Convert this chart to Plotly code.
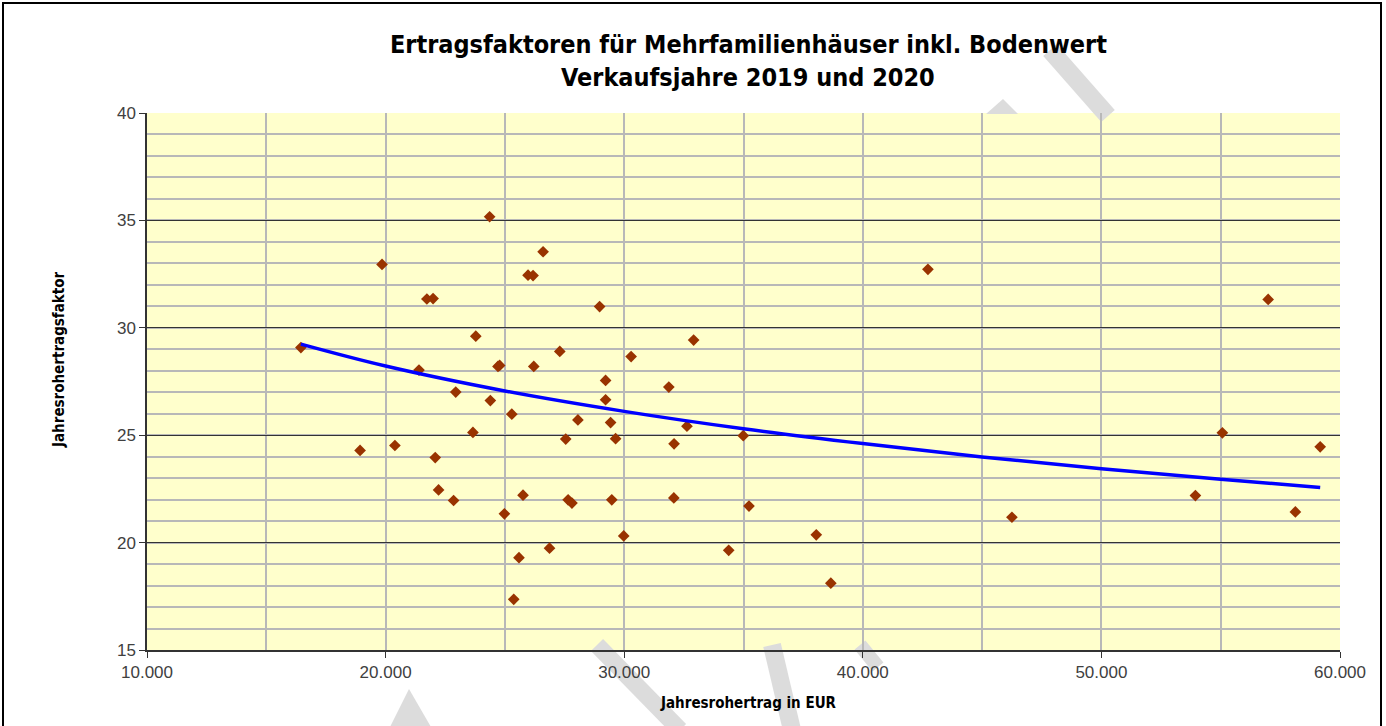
import plotly.graph_objects as go

# Data
jahresrohertrag = [16450, 18930, 19850, 20390, 21400, 21730, 21990, 22080, 22220, 22850,
                   22940, 23660, 23780, 24360, 24390, 24710, 24780, 24980, 25290, 25370,
                   25590, 25760, 25970, 26180, 26210, 26600, 26870, 27300, 27550, 27650,
                   27810, 28060, 28970, 29220, 29220, 29430, 29480, 29640, 29980, 30290,
                   31870, 32080, 32090, 32630, 32910, 34380, 34990, 35230, 38050, 38660,
                   42730, 46250, 53940, 55070, 56990, 58130, 59170]
ertragsfaktor = [29.08, 24.29, 32.95, 24.52, 28.03, 31.34, 31.36, 23.96, 22.45, 21.96,
                 27.01, 25.13, 29.61, 35.17, 26.61, 28.20, 28.25, 21.34, 25.98, 17.36,
                 19.30, 22.21, 32.45, 32.43, 28.20, 33.54, 19.74, 28.90, 24.82, 21.99,
                 21.84, 25.71, 30.99, 27.55, 26.65, 25.59, 21.99, 24.84, 20.31, 28.66,
                 27.24, 22.08, 24.60, 25.42, 29.43, 19.64, 24.98, 21.70, 20.36, 18.11,
                 32.72, 21.18, 22.19, 25.11, 31.32, 21.43, 24.46]

# Trendline (logarithmic) values
trend_x = [16450, 20000, 25000, 30000, 35000, 40000, 45000, 50000, 55000, 59170]
trend_y = [29.24, 28.22, 27.06, 26.11, 25.30, 24.61, 23.99, 23.44, 22.95, 22.57]

x_ticks = [10000, 20000, 30000, 40000, 50000, 60000]
y_ticks = [15, 20, 25, 30, 35, 40]

title_lines = ["Ertragsfaktoren für Mehrfamilienhäuser inkl. Bodenwert", "Verkaufsjahre 2019 und 2020"]
x_title = "Jahresrohertrag in EUR"
y_title = "Jahresrohertragsfaktor"

NARROW = "Liberation Sans Narrow, Arial Narrow, DejaVu Sans Condensed, sans-serif"
REG = "Liberation Sans, Arial, sans-serif"

fig = go.Figure()
fig.add_trace(go.Scatter(x=jahresrohertrag, y=ertragsfaktor, mode="markers",
                         marker=dict(symbol="diamond", size=9, color="#993300"),
                         showlegend=False, hoverinfo="x+y"))
fig.add_trace(go.Scatter(x=trend_x, y=trend_y, mode="lines",
                         line=dict(color="#0000FF", width=3.5, shape="spline"),
                         showlegend=False, hoverinfo="skip"))

W, H = 1386, 726
L, R, T, B = 147, 46, 113, 76
pw, ph = W - L - R, H - T - B


def px(xp):
    return (xp - L) / pw


def py(yp):
    return (H - B - yp) / ph


shapes = []
# outer frame
shapes.append(dict(type="rect", xref="paper", yref="paper",
                   x0=px(3), x1=px(1381), y0=py(740), y1=py(3),
                   line=dict(color="black", width=2), fillcolor="rgba(0,0,0,0)", layer="above"))
# watermark strokes (behind plot area)
wm = "#dcdcdc"
for (x0, y0, x1, y1, w) in [(1050, 50, 1108, 116, 18), (597, 645, 680, 730, 17),
                            (772, 645, 792, 730, 18), (860, 645, 878, 667, 14)]:
    shapes.append(dict(type="line", xref="paper", yref="paper",
                       x0=px(x0), y0=py(y0), x1=px(x1), y1=py(y1),
                       line=dict(color=wm, width=w), layer="below"))
for pts in [[(986, 114), (1003, 99), (1018, 114)], [(390, 727), (409, 689), (431, 727)]]:
    path = "M " + " L ".join(f"{px(p[0])},{py(p[1])}" for p in pts) + " Z"
    shapes.append(dict(type="path", xref="paper", yref="paper", path=path,
                       fillcolor=wm, line=dict(width=0), layer="below"))

annotations = [
    dict(text="<b>" + title_lines[0] + "</b>", xref="paper", yref="paper",
         x=px(748), y=py(45), xanchor="center", yanchor="middle", showarrow=False,
         font=dict(family=NARROW, size=25, color="black")),
    dict(text="<b>" + title_lines[1] + "</b>", xref="paper", yref="paper",
         x=px(748), y=py(77), xanchor="center", yanchor="middle", showarrow=False,
         font=dict(family=NARROW, size=25, color="black")),
    dict(text="<b>" + x_title + "</b>", xref="paper", yref="paper",
         x=px(748), y=py(703), xanchor="center", yanchor="middle", showarrow=False,
         font=dict(family=NARROW, size=15, color="black")),
    dict(text="<b>" + y_title + "</b>", xref="paper", yref="paper", textangle=-90,
         x=px(59), y=py(360), xanchor="center", yanchor="middle", showarrow=False,
         font=dict(family=NARROW, size=15, color="black")),
]

fig.update_layout(
    width=W, height=H,
    margin=dict(l=L, r=R, t=T, b=B, pad=0),
    paper_bgcolor="white", plot_bgcolor="#FFFFCC",
    separators=",.",
    shapes=shapes, annotations=annotations,
    xaxis=dict(range=[10000, 60000], tickvals=x_ticks, tickformat=",d",
               showgrid=True, gridcolor="#B8B8B8", gridwidth=1.5,
               minor=dict(dtick=5000, tick0=10000, showgrid=True, gridcolor="#B8B8B8", gridwidth=1.5),
               ticks="outside", ticklen=6, tickcolor="#333333",
               showline=True, linecolor="#333333", linewidth=1.5, mirror=False,
               zeroline=False, tickfont=dict(family=REG, size=17, color="#404040")),
    yaxis=dict(range=[15, 40], tickvals=y_ticks,
               showgrid=True, gridcolor="#333333", gridwidth=1,
               minor=dict(dtick=1, tick0=15, showgrid=True, gridcolor="#B8B8B8", gridwidth=1.5),
               ticks="outside", ticklen=6, tickcolor="#333333",
               showline=True, linecolor="#333333", linewidth=1.5,
               zeroline=False, tickfont=dict(family=REG, size=17, color="#404040")),
)

fig.write_html("out.html", config={"displayModeBar": False},
               post_script="document.body.style.margin='0';document.body.style.overflow='hidden';")
